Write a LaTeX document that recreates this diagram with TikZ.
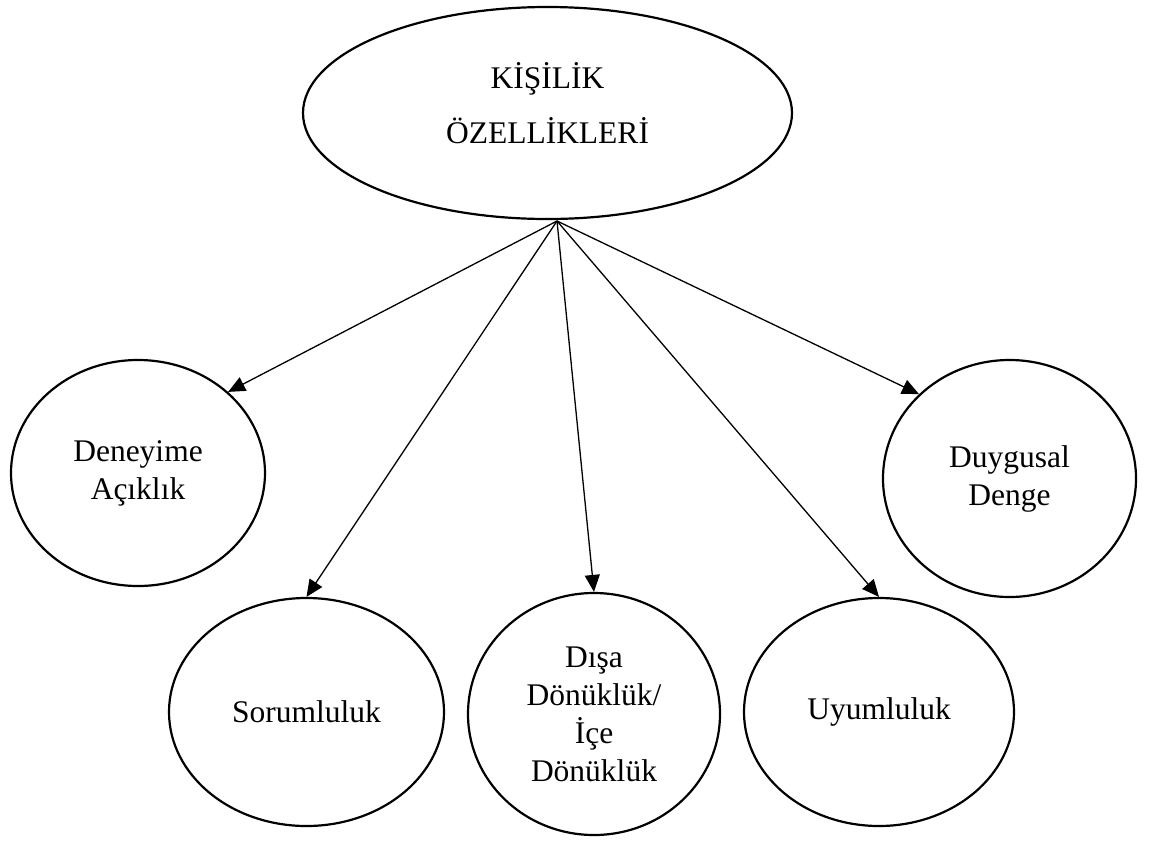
\documentclass[tikz,border=0pt]{standalone}
\usepackage{fontspec}
\setmainfont{Liberation Serif}
\usetikzlibrary{shapes.geometric,arrows.meta}
\begin{document}
\begin{tikzpicture}[x=1pt,y=-1pt,
  oval/.style={draw,ellipse,line width=2.2pt,inner sep=0pt,align=center,
    font=\fontsize{31.5}{38}\selectfont},
  toptext/.style={align=center,inner sep=0pt,font=\fontsize{31.5}{55}\selectfont},
  conn/.style={line width=1.3pt,-{Triangle[length=17pt,width=15pt]}}]
\useasboundingbox (0,0) rectangle (1154,841);
\node[oval,minimum width=489pt,minimum height=212pt] (top) at (547.5,113) {};
\node[toptext] (toplabel) at (547.5,103) {KİŞİLİK\\ÖZELLİKLERİ};
\node[oval,minimum width=254pt,minimum height=226pt] (deney) at (138,473) {Deneyime\\Açıklık};
\node[oval,minimum width=275pt,minimum height=228pt] (sorum) at (306.5,712) {Sorumluluk};
\node[oval,minimum width=252pt,minimum height=242pt] (disa) at (594,714) {Dışa\\Dönüklük/\\İçe\\Dönüklük};
\node[oval,minimum width=270pt,minimum height=228pt] (uyum) at (879,712) {Uyumluluk};
\node[oval,minimum width=253pt,minimum height=237pt] (duyg) at (1009.5,478.5) {Duygusal\\Denge};
\coordinate (src) at (557,221);
\draw[conn] (src) -- (deney.42);
\draw[conn] (src) -- (sorum.north);
\draw[conn] (src) -- (disa.north);
\draw[conn] (src) -- (uyum.north);
\draw[conn] (src) -- (duyg.137);
\end{tikzpicture}
\end{document}
